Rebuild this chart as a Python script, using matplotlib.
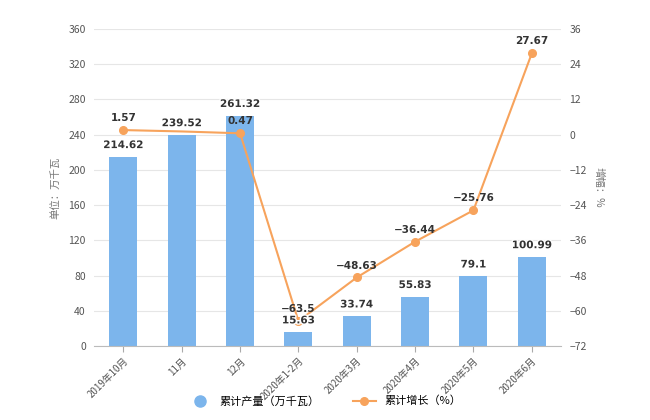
import matplotlib
matplotlib.use("Agg")
import matplotlib.pyplot as plt
import matplotlib.patheffects as pe
from matplotlib.lines import Line2D
import numpy as np

plt.rcParams['font.family'] = ['Noto Sans CJK SC', 'DejaVu Sans']

categories = ["2019年10月", "11月", "12月", "2020年1-2月", "2020年3月", "2020年4月", "2020年5月", "2020年6月"]
output = [214.62, 239.52, 261.32, 15.63, 33.74, 55.83, 79.1, 100.99]
output_labels = ["214.62", "239.52", "261.32", "15.63", "33.74", "55.83", "79.1", "100.99"]
growth = [1.57, 1.1, 0.47, -63.5, -48.63, -36.44, -25.76, 27.67]
growth_labels = ["1.57", "", "0.47", "−63.5", "−48.63", "−36.44", "−25.76", "27.67"]
left_ticks = [0, 40, 80, 120, 160, 200, 240, 280, 320, 360]
right_ticks = [-72, -60, -48, -36, -24, -12, 0, 12, 24, 36]

bar_color = "#7cb5ec"
line_color = "#f7a35c"

fig = plt.figure(figsize=(6.5, 4.2), dpi=100)
ax = fig.add_axes([0.145, 0.176, 0.718, 0.755])
ax2 = ax.twinx()

x = np.arange(len(categories))
ax.bar(x, output, width=0.48, color=bar_color, zorder=2, label="累计产量（万千瓦）")
ax.set_ylim(0, 360)
ax.set_yticks(left_ticks)
ax.set_xlim(-0.5, len(categories) - 0.5)
ax.set_xticks(x)
ax.set_xticklabels(categories, rotation=45, ha="right", rotation_mode="anchor", fontsize=7, color="#555555")
ax.tick_params(axis="x", length=4, color="#aaaaaa", pad=3)
ax.tick_params(axis="y", length=0, labelsize=7.5, labelcolor="#555555", pad=6)
ax.grid(axis="y", color="#e6e6e6", linewidth=0.8, zorder=0)
ax.set_axisbelow(True)
for s in ["top", "left", "right"]:
    ax.spines[s].set_visible(False)
ax.spines["bottom"].set_color("#bbbbbb")
ax.set_ylabel("单位：万千瓦", fontsize=7.5, color="#777777", labelpad=6)

marked = [i for i, lab in enumerate(growth_labels) if lab]
ax2.plot(x, growth, color=line_color, linewidth=1.5, marker="o", markersize=5.5, zorder=4,
         markevery=marked, label="累计增长（%）")
ax2.set_ylim(-72, 36)
ax2.set_yticks(right_ticks)
ax2.tick_params(axis="y", length=0, labelsize=7.5, labelcolor="#555555", pad=6)
for s in ["top", "left", "right", "bottom"]:
    ax2.spines[s].set_visible(False)
ax2.set_ylabel("增幅：%", fontsize=7.5, color="#777777", rotation=270, labelpad=12)

stroke = [pe.withStroke(linewidth=2.0, foreground="white")]
for xi, v, lab in zip(x, output, output_labels):
    ax2.annotate(lab, (xi, v), xycoords=ax.transData, xytext=(0, 5), textcoords="offset points",
                 ha="center", va="bottom", fontsize=7.5, fontweight="bold", color="#333333",
                 family=["DejaVu Sans"], zorder=7, path_effects=stroke)

for xi, v, lab in zip(x, growth, growth_labels):
    if lab:
        ax2.annotate(lab, (xi, v), xytext=(0, 5), textcoords="offset points",
                     ha="center", va="bottom", fontsize=7.5, fontweight="bold", color="#333333",
                     family=["DejaVu Sans"], zorder=6)

hb = Line2D([], [], marker="o", linestyle="none", markersize=8, color=bar_color)
hl = Line2D([], [], marker="o", color=line_color, linewidth=1.5, markersize=5.5)
fig.legend([hb, hl], ["累计产量（万千瓦）", "累计增长（%）"], loc="center", bbox_to_anchor=(0.5, 0.045), ncol=2,
           frameon=False, fontsize=8, handlelength=2, columnspacing=3)

fig.savefig("out.png", dpi=100)
